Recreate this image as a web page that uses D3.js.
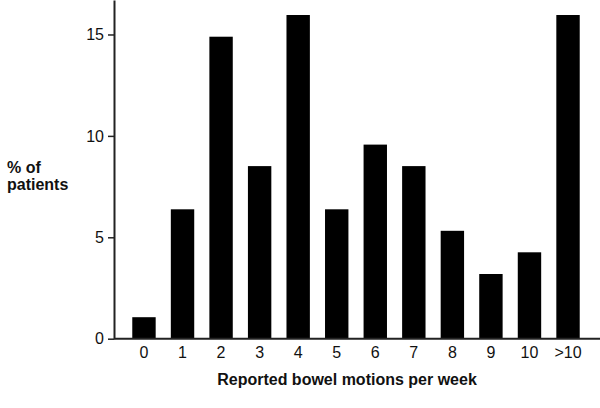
<!DOCTYPE html>
<html>
<head>
<meta charset="utf-8">
<script src="https://cdn.jsdelivr.net/npm/d3@7"></script>
<style>
  html, body { margin: 0; padding: 0; background: #fff; }
  svg { display: block; font-family: "Liberation Sans", Arial, Helvetica, sans-serif; }
</style>
</head>
<body>
<svg id="chart" width="600" height="408"></svg>
<script>
const categories = ["0", "1", "2", "3", "4", "5", "6", "7", "8", "9", "10", ">10"];
const percentPatients = [1.06, 6.38, 14.89, 8.51, 15.96, 6.38, 9.57, 8.51, 5.32, 3.19, 4.26, 15.96];
const yTicks = [0, 5, 10, 15];
const xTitle = "Reported bowel motions per week";
const yTitleLines = ["% of", "patients"];

const svg = d3.select("#chart");
const axisX = 114, baseY = 338.7;

const x = d3.scaleBand()
  .domain(categories)
  .range([124.7, 587.3])
  .paddingInner(0.393)
  .paddingOuter(0.1965);

const y = d3.scaleLinear()
  .domain([0, 16.7])
  .range([baseY, 0]);

// bars
svg.append("g")
  .selectAll("rect")
  .data(categories)
  .join("rect")
  .attr("x", d => x(d))
  .attr("width", x.bandwidth())
  .attr("y", (d, i) => y(percentPatients[i]))
  .attr("height", (d, i) => baseY - y(percentPatients[i]))
  .attr("fill", "#000");

// y axis
const yAxis = svg.append("g")
  .attr("transform", `translate(${axisX},0)`)
  .call(d3.axisLeft(y).tickValues(yTicks).tickSize(6).tickPadding(4).tickSizeOuter(0));
yAxis.select(".domain").attr("stroke", "#222").attr("stroke-width", 2);
yAxis.selectAll(".tick line").attr("stroke", "#222").attr("stroke-width", 1.5);
yAxis.selectAll(".tick text").attr("font-size", 16).attr("fill", "#111")
  .attr("font-family", "'Liberation Sans', Arial, sans-serif");

// x axis line
svg.append("line")
  .attr("x1", axisX).attr("x2", 600)
  .attr("y1", baseY).attr("y2", baseY)
  .attr("stroke", "#222").attr("stroke-width", 2);

// x tick labels
svg.append("g")
  .selectAll("text")
  .data(categories)
  .join("text")
  .attr("x", d => x(d) + x.bandwidth() / 2)
  .attr("y", 358)
  .attr("text-anchor", "middle")
  .attr("font-size", 16)
  .attr("fill", "#111")
  .text(d => d);

// x title
svg.append("text")
  .attr("x", 347)
  .attr("y", 385)
  .attr("text-anchor", "middle")
  .attr("font-size", 16)
  .attr("font-weight", "bold")
  .attr("fill", "#111")
  .text(xTitle);

// y title
svg.append("g")
  .selectAll("text")
  .data(yTitleLines)
  .join("text")
  .attr("x", 7)
  .attr("y", (d, i) => 173 + i * 17)
  .attr("font-size", 16)
  .attr("font-weight", "bold")
  .attr("fill", "#111")
  .text(d => d);
</script>
</body>
</html>
